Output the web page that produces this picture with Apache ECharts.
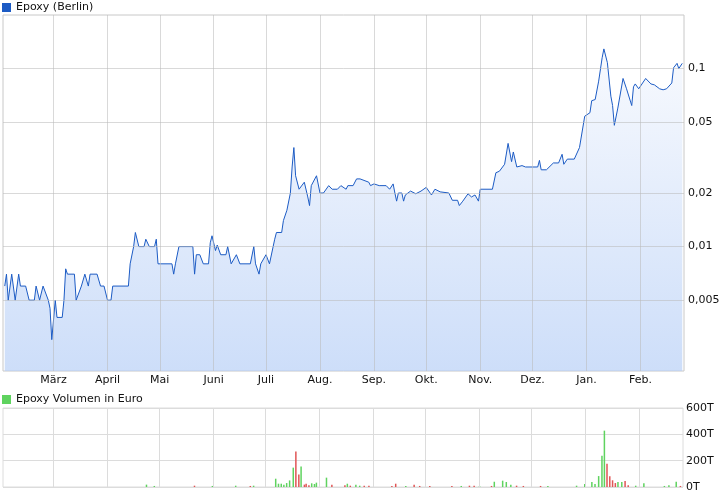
<!DOCTYPE html>
<html><head><meta charset="utf-8">
<script src="https://cdn.jsdelivr.net/npm/echarts@6/dist/echarts.min.js"></script>
<style>html,body{margin:0;padding:0;background:#fff}#c{width:726px;height:496px}</style>
</head><body><div id="c"></div>
<script>
const startDate = '2021-02-01';
const priceDays = [0,1,2,4,6,8,9,12,14,17,18,20,22,23,25,26,27,29,30,33,34,35,36,40,41,44,46,48,49,53,55,57,59,61,62,71,72,74,75,77,80,81,83,86,87,88,96,97,98,100,108,109,110,112,114,117,118,119,121,122,124,127,128,130,133,135,141,143,144,146,147,148,150,152,153,155,156,159,160,162,164,165,166,167,169,172,174,175,176,179,181,183,186,188,191,193,196,197,200,202,204,
205,209,210,212,215,219,221,223,224,225,226,228,229,230,233,236,239,242,245,247,250,255,257,260,261,263,264,266,268,270,272,273,280,282,284,285,287,289,291,292,294,297,299,303,306,307,308,311,315,318,320,321,323,327,330,333,336,337,339,341,343,344,346,348,349,350,352,355,357,358,360,361,362,364,365,368,369,371,373,376,378,380,383,384,386,387,389];
const priceValues = [0.006,0.007,0.005,0.007,0.005,0.007,0.006,0.006,0.005,0.005,0.006,0.005,0.006,0.006,0.005,0.0045,0.003,0.005,0.004,0.004,0.005,0.0075,0.007,0.007,0.005,0.006,0.007,0.006,0.007,0.007,0.006,0.006,0.005,0.005,0.006,0.006,0.008,0.01,0.012,0.01,0.01,0.011,0.01,0.01,0.011,0.008,0.008,0.007,0.008,0.01,0.01,0.007,0.009,0.009,0.008,0.008,0.0105,0.0115,0.0095,0.0102,0.009,0.009,0.01,0.008,0.009,0.008,0.008,0.01,0.008,0.007,0.008,0.008,0.009,0.008,0.008,0.011,0.012,0.012,0.014,0.016,0.02,0.028,0.036,0.025,0.021,0.023,0.019,0.017,0.022,0.025,0.02,0.02,0.022,0.021,0.021,0.022,0.021,0.022,0.022,0.024,0.024,
0.0235,0.023,0.022,0.0225,0.022,0.022,0.021,0.0225,0.02,0.018,0.02,0.02,0.018,0.0195,0.0205,0.0198,0.0205,0.0215,0.0195,0.021,0.0203,0.02,0.0182,0.0182,0.017,0.018,0.018,0.0198,0.019,0.0195,0.018,0.021,0.021,0.026,0.0265,0.026,0.029,0.038,0.03,0.034,0.028,0.0285,0.028,0.028,0.028,0.0305,0.027,0.027,0.0295,0.0295,0.033,0.029,0.031,0.031,0.036,0.054,0.0565,0.066,0.067,0.085,0.115,0.129,0.108,0.07,0.062,0.048,0.06,0.088,0.077,0.078,0.062,0.079,0.082,0.077,0.078,0.088,0.086,0.082,0.081,0.077,0.076,0.077,0.083,0.101,0.107,0.1,0.107];
const volDays = [81.5,86,109.1,119.4,132.8,141.2,143.1,155.8,157.4,159,160.5,162.1,163.8,165.9,167.4,169.1,170.4,172.3,173.3,174.9,176.5,178.1,179.2,185,188.1,195.6,197,198.7,201.9,204.1,206.7,209.4,222.6,224.8,230.6,235.4,238.6,244.4,257.1,262.5,267.2,269.9,273,279.9,281.5,286.3,288.4,291,294.3,298.2,308.1,312.3,328.8,333.5,337.6,339.4,341.5,343.4,344.8,346.3,347.9,349.5,351.1,352.6,354.8,356.7,358.5,362.8,367.5,379.3,381.9,386.1,388.5];
const volValues = [18,8,10,8,10,8,10,63,25,25,18,30,50,147,270,94,155,18,25,13,28,23,33,71,18,13,25,10,18,10,10,10,8,25,8,18,8,8,8,8,10,10,8,8,40,48,38,18,10,8,8,8,10,23,38,23,83,238,428,177,81,51,30,38,38,46,13,10,28,8,13,40,8];
const volColors = ['g','g','r','g','g','r','g','g','g','g','g','g','g','g','r','r','g','r','r','r','g','g','g','g','r','r','g','r','g','g','r','r','r','r','g','r','r','r','r','g','r','r','g','r','g','g','g','g','r','r','r','g','g','g','g','g','g','g','g','r','r','r','r','g','g','r','r','g','g','g','g','g','r'];
const priceTicks = [0.005,0.01,0.02,0.05,0.1];
const priceTickLabels = ['0,005','0,01','0,02','0,05','0,1'];
const monthStarts = ['2021-03-01','2021-04-01','2021-05-01','2021-06-01','2021-07-01','2021-08-01','2021-09-01','2021-10-01','2021-11-01','2021-12-01','2022-01-01','2022-02-01'];
const monthLabels = ['März','April','Mai','Juni','Juli','Aug.','Sep.','Okt.','Nov.','Dez.','Jan.','Feb.'];

const DAY = 86400000, t0 = Date.parse(startDate + 'T00:00:00Z');
const monthDays = monthStarts.map(s => (Date.parse(s + 'T00:00:00Z') - t0) / DAY);
const L = Math.log10;
const font = {fontFamily:'DejaVu Sans', fontSize:11, color:'#111'};
const gridCol = '#dcdcdc';
const chart = echarts.init(document.getElementById('c'), null, {renderer:'canvas'});
chart.setOption({
  animation:false,
  textStyle:{fontFamily:'DejaVu Sans'},
  legend:[
    {data:['Epoxy (Berlin)'], left:2, top:2, itemWidth:9, itemHeight:9, itemGap:4, icon:'rect', textStyle:font, padding:0},
    {data:['Epoxy Volumen in Euro'], left:2, top:394, itemWidth:9, itemHeight:9, icon:'rect', textStyle:font, padding:0}
  ],
  grid:[
    {left:3, right:42, top:15, height:356, show:true, borderColor:'#c8c8c8', borderWidth:1},
    {left:3, right:43, top:408, height:79, show:true, borderColor:gridCol, borderWidth:1}
  ],
  xAxis:[
    {type:'value', gridIndex:0, min:-1, max:390, axisLine:{show:false}, axisTick:{show:false}, splitLine:{show:false}, axisLabel:{show:false}},
    {type:'value', gridIndex:1, min:-1, max:390, axisLine:{show:false}, axisTick:{show:false}, splitLine:{show:false}, axisLabel:{show:false}}
  ],
  yAxis:[
    {type:'value', gridIndex:0, position:'right', min:L(0.002), max:L(0.2), axisLine:{show:false}, axisTick:{show:false}, splitLine:{show:false}, axisLabel:{show:false}},
    {type:'value', gridIndex:1, position:'right', min:0, max:600, interval:200, axisLine:{show:false}, axisTick:{show:false}, splitLine:{show:true, lineStyle:{color:gridCol}},
     axisLabel:{...font, margin:3, formatter:v => v + 'T'}}
  ],
  series:[
    {name:'Epoxy (Berlin)', type:'line', xAxisIndex:0, yAxisIndex:0, symbol:'none', color:'#1c5bc4',
     lineStyle:{width:1, color:'#1c5bc4'},
     areaStyle:{origin:'start', color:new echarts.graphic.LinearGradient(0,0,0,1,[{offset:0,color:'#f4f7fd'},{offset:1,color:'#b7cff6'}])},
     data: priceDays.map((d, i) => [d, L(priceValues[i])]),
     markLine:{silent:true, symbol:'none', animation:false, lineStyle:{color:'rgba(185,185,185,0.55)', type:'solid', width:1},
       data: priceTicks.map((v, i) => ({yAxis:L(v), label:{show:true, position:'end', distance:4, formatter:priceTickLabels[i], ...font}}))
         .concat(monthDays.map((d, i) => ({xAxis:d, label:{show:true, position:'start', distance:4, formatter:monthLabels[i], ...font}})))}, z:2},
    {name:'Epoxy Volumen in Euro', type:'bar', xAxisIndex:1, yAxisIndex:1, color:'#5fd35f', barWidth:1.5,
     data: volDays.map((d, i) => ({value:[d, volValues[i]], itemStyle:{color: volColors[i] === 'g' ? '#5fd35f' : '#e05555'}})),
     markLine:{silent:true, symbol:'none', label:{show:false}, animation:false, lineStyle:{color:gridCol, type:'solid', width:1},
       data: monthDays.map(d => ({xAxis:d}))}}
  ]
});
</script></body></html>
